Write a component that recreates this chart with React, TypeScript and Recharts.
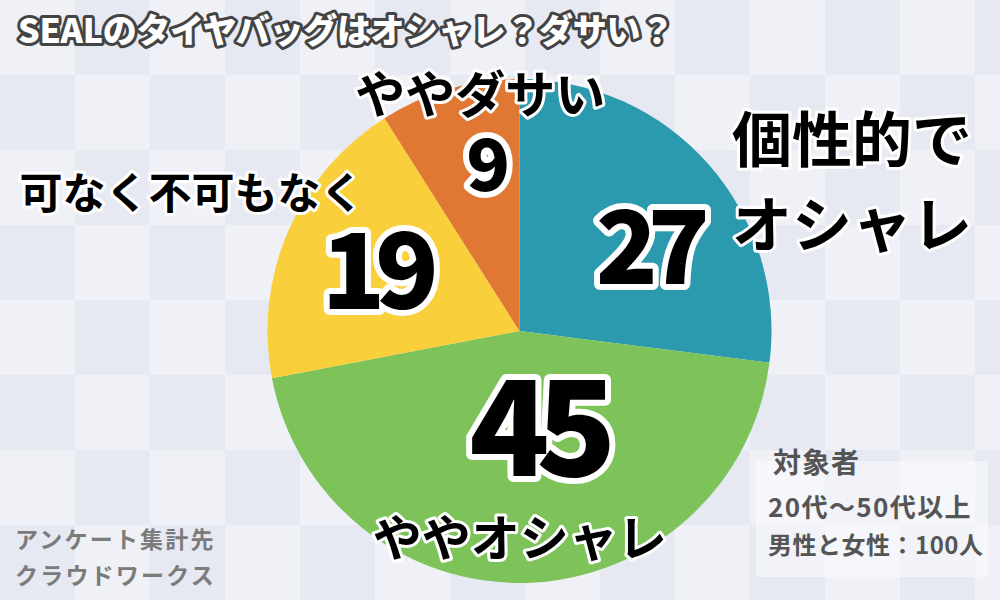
import { PieChart, Pie, Cell } from "recharts";

const categories = ["個性的でオシャレ", "ややオシャレ", "可なく不可もなく", "ややダサい"];
const nameLines = [["個性的で", "オシャレ"], ["ややオシャレ"], ["可なく不可もなく"], ["ややダサい"]];
const counts = [27, 45, 19, 9];
const colors = ["#2b99ae", "#7dc35a", "#f9cf3b", "#e07833"];

const title = "SEALのタイヤバッグはオシャレ？ダサい？";
const sourceLines = ["アンケート集計先", "クラウドワークス"];
const targetLines = ["対象者", "20代〜50代以上", "男性と女性：100人"];

const data = categories.map((name, i) => ({ name, value: counts[i] }));

// polar placement relative to pie centre: number (angle offset, radius), name (angle, radius)
const layout = [
  { da: -7.8, r: 154, nameA: 24.7, nameR: 366, numSize: 102, nameSize: 60 },
  { da: 8.2, r: 97, nameA: -89.9, nameR: 204, numSize: 132, nameSize: 49 },
  { da: 0.4, r: 157, nameA: 156.7, nameR: 357, numSize: 105, nameSize: 43 },
  { da: -4.4, r: 171, nameA: 99.3, nameR: 243, numSize: 72, nameSize: 50 },
];

const FONT = '"Noto Sans CJK JP", "Noto Sans", sans-serif';
const RAD = Math.PI / 180;

const renderLabel = (props: any) => {
  const { cx, cy, midAngle, value, index } = props;
  const l = layout[index];
  const a = (midAngle + l.da) * RAD;
  const nx = cx + l.r * Math.cos(a);
  const ny = cy - l.r * Math.sin(a) - l.numSize * 0.06;
  const tx = cx + l.nameR * Math.cos(l.nameA * RAD);
  const ty = cy - l.nameR * Math.sin(l.nameA * RAD);
  const lines = nameLines[index];
  const lh = l.nameSize * 1.42;
  return (
    <g key={`lbl-${index}`}>
      <text
        x={nx}
        y={ny}
        textAnchor="middle"
        dominantBaseline="central"
        fontFamily={FONT}
        fontWeight={900}
        fontSize={l.numSize}
        letterSpacing={-l.numSize * 0.1}
        fill="#000"
        stroke="#fff"
        strokeWidth={12}
        strokeLinejoin="round"
        paintOrder="stroke"
      >
        {value}
      </text>
      {lines.map((line, j) => (
        <text
          key={j}
          x={tx}
          y={ty + (j - (lines.length - 1) / 2) * lh}
          textAnchor="middle"
          dominantBaseline="central"
          fontFamily={FONT}
          fontWeight={700}
          fontSize={l.nameSize}
          fill="#000"
          stroke="#fff"
          strokeWidth={6}
          strokeLinejoin="round"
          paintOrder="stroke"
        >
          {line}
        </text>
      ))}
    </g>
  );
};

export default function App() {
  return (
    <div
      style={{
        position: "absolute",
        left: 0,
        top: 0,
        width: 1000,
        height: 600,
        background:
          "repeating-conic-gradient(#e6e9f2 0 25%, #eff1f6 0 50%) 0 0 / 150px 150px",
        fontFamily: FONT,
      }}
    >
      <svg
        width={1000}
        height={600}
        style={{ position: "absolute", left: 0, top: 0 }}
      >
        <text
          x={18}
          y={28}
          dominantBaseline="central"
          fontFamily={FONT}
          fontWeight={900}
          fontSize={34}
          letterSpacing={-0.3}
          fill="#fff"
          stroke="#444"
          strokeWidth={6}
          strokeLinejoin="round"
          paintOrder="stroke"
        >
          {title}
        </text>
        <rect x={756} y={461} width={232} height={116} fill="#ffffff" fillOpacity={0.45} />
        {sourceLines.map((t, i) => (
          <text
            key={t}
            x={15}
            y={538 + i * 36}
            dominantBaseline="central"
            fontFamily={FONT}
            fontWeight={700}
            fontSize={23}
            letterSpacing={2.2}
            fill="#7b7b7b"
          >
            {t}
          </text>
        ))}
        {targetLines.map((t, i) => (
          <text
            key={t}
            x={i === 0 ? 773 : 768}
            y={[461, 505, 543][i]}
            dominantBaseline="central"
            fontFamily={FONT}
            fontWeight={700}
            fontSize={[28, 26, 24][i]}
            letterSpacing={[1, 1.4, 0.5][i]}
            fill="#555"
          >
            {t}
          </text>
        ))}
      </svg>
      <div style={{ position: "absolute", left: 0, top: 0 }}>
        <PieChart
          width={1000}
          height={600}
          margin={{ top: 0, right: 0, bottom: 0, left: 0 }}
          style={{ background: "transparent" }}
        >
          <Pie
            data={data}
            dataKey="value"
            nameKey="name"
            cx={519.5}
            cy={331}
            outerRadius={252}
            startAngle={90}
            endAngle={-270}
            stroke="none"
            label={renderLabel}
            labelLine={false}
            isAnimationActive={false}
          >
            {data.map((d, i) => (
              <Cell key={d.name} fill={colors[i]} />
            ))}
          </Pie>
        </PieChart>
      </div>
    </div>
  );
}
